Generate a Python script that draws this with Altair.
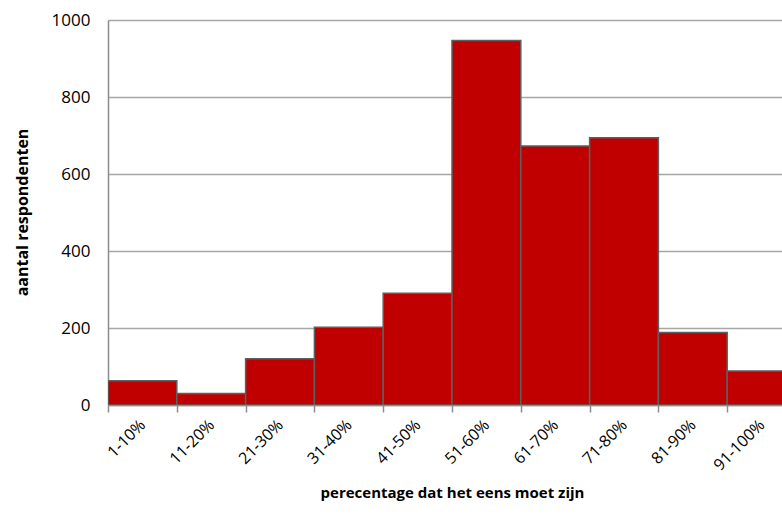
import altair as alt
import pandas as pd

categories = ["1-10%", "11-20%", "21-30%", "31-40%", "41-50%",
              "51-60%", "61-70%", "71-80%", "81-90%", "91-100%"]
counts = [63, 30, 120, 202, 290, 947, 673, 694, 188, 88]
y_ticks = [0, 200, 400, 600, 800, 1000]

df = pd.DataFrame({"cat": categories, "n": counts})

FONT = "Open Sans"

chart = alt.Chart(df).mark_bar(
    color="#C00000", stroke="#5F5F5F", strokeWidth=1.5, clip=True
).encode(
    x=alt.X("cat:N", sort=categories,
            scale=alt.Scale(paddingInner=0, paddingOuter=0, range=[0, 688]),
            axis=alt.Axis(title="perecentage dat het eens moet zijn", labelAngle=-45,
                          tickBand="extent", tickSize=7, tickColor="#8C8C8C", tickWidth=1.5,
                          domainColor="#8C8C8C", domainWidth=1.5, grid=False,
                          labelFont=FONT, labelFontSize=16, labelColor="#000000",
                          labelPadding=10, labelAlign="right", labelBaseline="middle",
                          titleFont=FONT, titleFontSize=15, titleFontWeight="bold",
                          titleColor="#000000", titleX=344, titleY=92,
                          titleBaseline="alphabetic", titleAlign="center")),
    y=alt.Y("n:Q", scale=alt.Scale(domain=[0, 1000], nice=False),
            axis=alt.Axis(title="aantal respondenten", values=y_ticks, ticks=False,
                          format="d",
                          domainColor="#8C8C8C", domainWidth=1.5,
                          gridColor="#A6A6A6", gridWidth=1.5,
                          labelFont=FONT, labelFontSize=17, labelColor="#000000",
                          labelPadding=18, titleFont=FONT, titleFontSize=16,
                          titleFontWeight="bold", titleColor="#000000",
                          titleX=-86, titleY=192, titleBaseline="middle",
                          titleAlign="center", titleAngle=270)),
).properties(
    width=674, height=385,
    autosize=alt.AutoSizeParams(type="none"),
    padding={"left": 108, "top": 20, "right": 0, "bottom": 119},
).configure_view(stroke=None)

chart.save("out.html", embed_options={"renderer": "svg", "actions": False})
